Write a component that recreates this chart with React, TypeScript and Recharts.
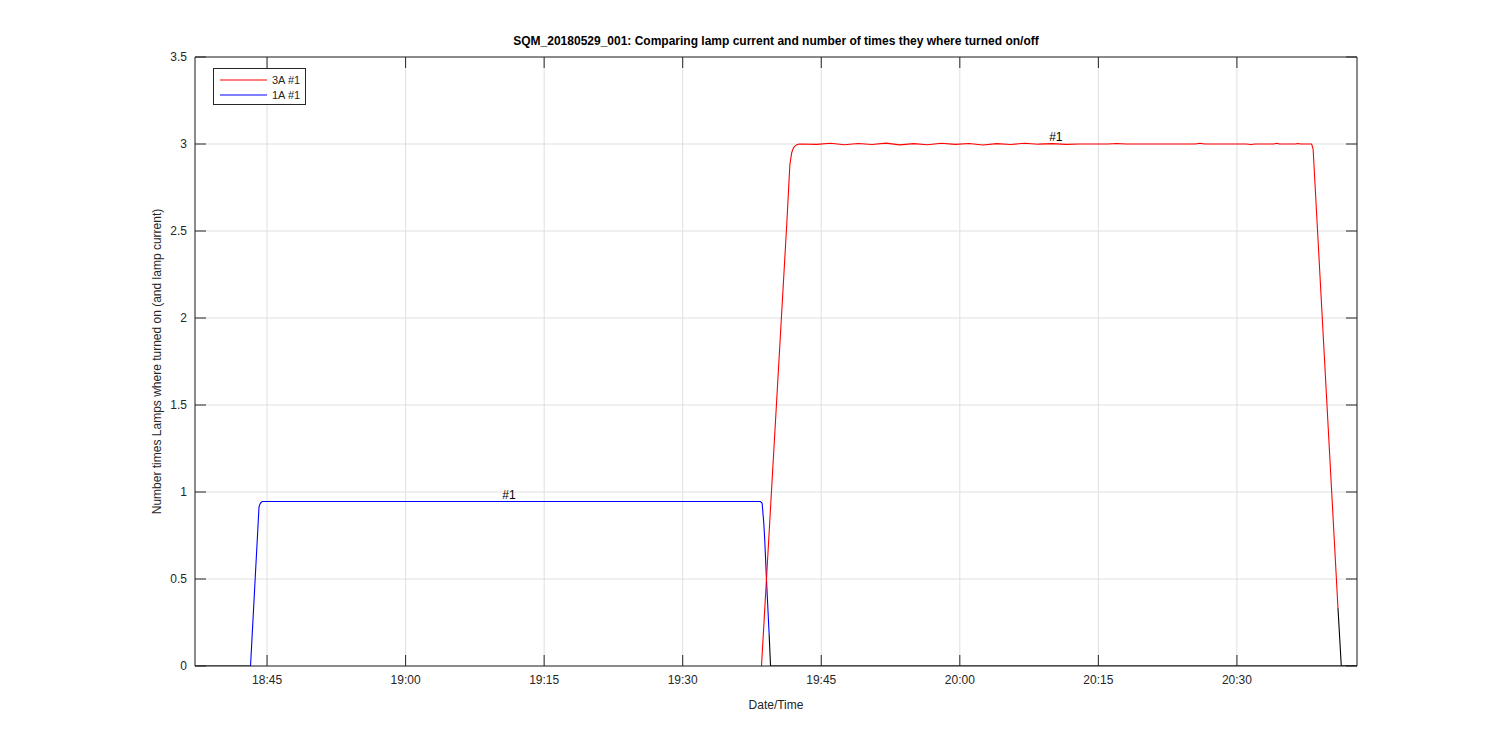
import React from 'react';
import { LineChart, Line, XAxis, YAxis, CartesianGrid, ReferenceDot } from 'recharts';

// time axis in minutes after 18:00
const timeDomain = [37.2, 163.0];
const timeTicks = [45, 60, 75, 90, 105, 120, 135, 150];
const valueTicks = [0, 0.5, 1, 1.5, 2, 2.5, 3, 3.5];

// 1A #1 lamp current (blue)
const lamp1ATime = [43.21, 44.13, 44.23, 44.34, 44.5, 98.42, 98.6, 98.78, 98.89, 99.07, 99.25, 99.36];
const lamp1AValue = [0, 0.914, 0.93, 0.94, 0.945, 0.945, 0.935, 0.82, 0.714, 0.494, 0.3, 0.178];

// 3A #1 lamp current (red)
const lamp3ATime = [
  98.53, 101.29, 101.6, 101.8, 102.0, 102.3, 102.6, 104.5, 106.0, 107.5, 109.0, 110.5, 112.0, 113.5,
  115.0, 116.5, 118.0, 119.5, 121.0, 122.5, 124.0, 125.5, 127.0, 128.5, 130.0, 131.5, 133.0, 136.0,
  137.0, 138.0, 145.5, 146.0, 146.5, 151.0, 151.5, 152.0, 154.0, 154.3, 154.6, 156.3, 156.6, 156.9,
  158.09, 158.25, 160.94,
];
const lamp3AValue = [
  0, 2.563, 2.88, 2.95, 2.98, 2.995, 3.0, 2.998, 3.004, 2.996, 3.003, 2.997, 3.005, 2.995,
  3.002, 2.996, 3.004, 2.998, 3.003, 2.994, 3.002, 2.997, 3.004, 2.999, 3.002, 2.998, 3.0, 3.0,
  3.003, 3.0, 3.0, 3.004, 3.0, 3.0, 2.997, 3.0, 3.0, 3.004, 3.0, 3.0, 3.003, 3.0,
  3.0, 2.97, 0.333,
];

// number of times on (black traces, visible where the currents are not drawn)
const count1ATime = [37.2, 43.21, 70.0, 99.36, 99.51, 163.0];
const count1AValue = [0, 0, null, 0.178, 0, 0];
const count3ATime = [160.94, 161.3, 163.0];
const count3AValue = [0.333, 0, 0];

const labelTime = [71.2, 130.4];
const labelValue = [0.945, 3.0];
const labelText = ['#1', '#1'];

const legendNames = ['3A #1', '1A #1'];
const legendColors = ['#ff0000', '#0000ff'];

const zip = (t: number[], v: (number | null)[]) => t.map((x, i) => ({ t: x, v: v[i] }));

const lamp1A = zip(lamp1ATime, lamp1AValue);
const lamp3A = zip(lamp3ATime, lamp3AValue);
const count1A = zip(count1ATime, count1AValue);
const count3A = zip(count3ATime, count3AValue);

const fmtTime = (m: number) => {
  const h = 18 + Math.floor(m / 60);
  const mm = Math.round(m % 60);
  return `${h}:${mm.toString().padStart(2, '0')}`;
};

const axisColor = '#262626';
const font = '"Liberation Sans", Arial, Helvetica, sans-serif';
const TICK_LEN = 11;
const GAP = 8;

const title = 'SQM_20180529_001: Comparing lamp current and number of times they where turned on/off';

// inward tick marks + labels (matlab style)
const BottomTick = (props: any) => {
  const { x, y, payload } = props;
  const axisY = y - GAP;
  return (
    <g>
      <line x1={x} x2={x} y1={axisY} y2={axisY - TICK_LEN} stroke={axisColor} />
      <text x={x} y={y + 10} textAnchor="middle" fill={axisColor} fontSize={12} fontFamily={font}>
        {fmtTime(payload.value)}
      </text>
    </g>
  );
};

const TopTick = (props: any) => {
  const { x, y } = props;
  return <line x1={x} x2={x} y1={y} y2={y + TICK_LEN} stroke={axisColor} />;
};

const LeftTick = (props: any) => {
  const { x, y, payload } = props;
  const axisX = x + GAP;
  return (
    <g>
      <line x1={axisX} x2={axisX + TICK_LEN} y1={y} y2={y} stroke={axisColor} />
      <text x={x} y={y + 4} textAnchor="end" fill={axisColor} fontSize={12} fontFamily={font}>
        {payload.value}
      </text>
    </g>
  );
};

const RightTick = (props: any) => {
  const { x, y } = props;
  return <line x1={x} x2={x - TICK_LEN} y1={y} y2={y} stroke={axisColor} />;
};

export default function App() {
  return (
    <div style={{ position: 'absolute', left: 0, top: 0, width: 1500, height: 750, background: '#fff', fontFamily: font }}>
      <LineChart width={1500} height={750} margin={{ top: 56, right: 142, bottom: 34, left: 119 }}>
        <CartesianGrid stroke="#dfdfdf" strokeWidth={1} />
        <XAxis
          dataKey="t"
          type="number"
          domain={timeDomain}
          ticks={timeTicks}
          allowDataOverflow
          height={50}
          stroke={axisColor}
          tickLine={false}
          tickSize={0}
          tickMargin={GAP}
          tick={<BottomTick />}
          label={{ value: 'Date/Time', position: 'insideBottom', offset: 7, fill: axisColor, fontSize: 12, fontFamily: font }}
        />
        <XAxis
          xAxisId="top"
          orientation="top"
          dataKey="t"
          type="number"
          domain={timeDomain}
          ticks={timeTicks}
          allowDataOverflow
          height={1}
          stroke={axisColor}
          tickLine={false}
          tickSize={0}
          tickMargin={0}
          tick={<TopTick />}
          label={{ value: title, position: 'top', offset: 11, fill: '#000', fontSize: 12, fontWeight: 'bold', fontFamily: font }}
        />
        <YAxis
          type="number"
          domain={[0, 3.5]}
          ticks={valueTicks}
          allowDataOverflow
          width={76}
          stroke={axisColor}
          tickLine={false}
          tickSize={0}
          tickMargin={GAP}
          tick={<LeftTick />}
          label={{
            value: 'Number times Lamps where turned on (and lamp current)',
            angle: -90,
            position: 'center',
            fill: axisColor,
            fontSize: 12,
            fontFamily: font,
            style: { textAnchor: 'middle' },
          }}
        />
        <YAxis
          yAxisId="r"
          orientation="right"
          type="number"
          domain={[0, 3.5]}
          ticks={valueTicks}
          allowDataOverflow
          width={1}
          stroke={axisColor}
          tickLine={false}
          tickSize={0}
          tickMargin={0}
          tick={<RightTick />}
        />
        <Line data={count1A} dataKey="v" stroke="#000" strokeWidth={1.1} dot={false} isAnimationActive={false} type="linear" />
        <Line data={count3A} dataKey="v" stroke="#000" strokeWidth={1.1} dot={false} isAnimationActive={false} type="linear" />
        <Line data={lamp1A} dataKey="v" stroke="#0000ff" strokeWidth={1.1} dot={false} isAnimationActive={false} type="linear" />
        <Line data={lamp3A} dataKey="v" stroke="#ff0000" strokeWidth={1.1} dot={false} isAnimationActive={false} type="linear" />
        {labelTime.map((t, i) => (
          <ReferenceDot
            key={i}
            x={t}
            y={labelValue[i]}
            r={0}
            stroke="none"
            fill="none"
            label={{ value: labelText[i], position: 'top', offset: 3, fill: '#000', fontSize: 12, fontFamily: font }}
          />
        ))}
      </LineChart>
      <div
        style={{
          position: 'absolute',
          left: 213,
          top: 68,
          width: 93,
          height: 37,
          boxSizing: 'border-box',
          border: `1px solid ${axisColor}`,
          background: '#fff',
        }}
      >
        {legendNames.map((name, i) => (
          <div
            key={name}
            style={{ position: 'absolute', left: 6, top: 4 + i * 14.5, height: 14, display: 'flex', alignItems: 'center' }}
          >
            <svg width={47} height={14}>
              <line x1={0} y1={7} x2={47} y2={7} stroke={legendColors[i]} strokeWidth={1.2} />
            </svg>
            <span style={{ marginLeft: 5, fontSize: 11, color: axisColor, lineHeight: '14px' }}>{name}</span>
          </div>
        ))}
      </div>
    </div>
  );
}
